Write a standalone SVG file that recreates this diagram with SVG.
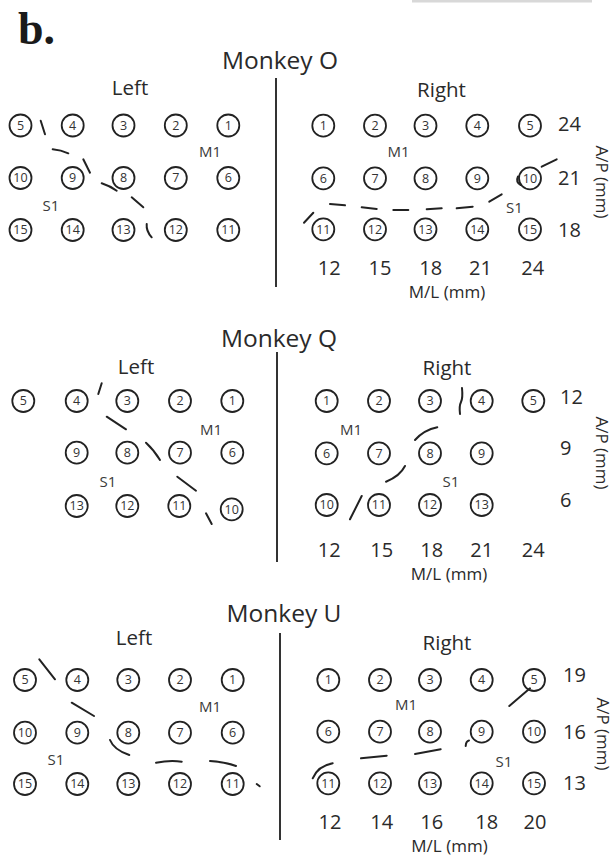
<svg xmlns="http://www.w3.org/2000/svg" width="616" height="859" viewBox="0 0 616 859">
<style>
.e circle{fill:none;stroke:#222;stroke-width:1.8}
.e text{font-family:"Open Sans","Noto Sans",sans-serif;font-size:12.5px;fill:#333;text-anchor:middle}
.t{font-family:"Open Sans","Noto Sans",sans-serif;fill:#2a2a2a;text-anchor:middle}
.ttl{font-size:24.5px}
.side{font-size:20.5px}
.lab{font-size:15px;fill:#3a3a3a}
.ax{font-family:"Open Sans","Noto Sans",sans-serif;font-size:20px;fill:#2a2a2a}
.mid{text-anchor:middle}
.unit{font-family:"Open Sans","Noto Sans",sans-serif;font-size:17px;fill:#2a2a2a;text-anchor:middle}
.div{stroke:#333;stroke-width:2}
.s{fill:none;stroke:#222;stroke-width:2;stroke-linecap:round}
</style>
<rect width="616" height="859" fill="#fff"/>
<rect x="412" y="0" width="180" height="2.5" fill="#d8d8d8"/>
<text x="18" y="44" font-family="Liberation Serif,serif" font-weight="bold" font-size="46" fill="#1a1a1a">b.</text>

<!-- ===== Monkey O ===== -->
<g id="panelO">
<text class="t ttl" x="280" y="69">Monkey O</text>
<line class="div" x1="276" y1="78" x2="276" y2="287"/>
<text class="t side" x="130" y="95">Left</text>
<text class="t side" x="441.5" y="97">Right</text>
<text class="t lab" x="210" y="157">M1</text>
<text class="t lab" x="51" y="211">S1</text>
<text class="t lab" x="398.5" y="157">M1</text>
<text class="t lab" x="514.5" y="213">S1</text>
<text class="ax" x="558" y="131">24</text>
<text class="ax" x="558" y="185">21</text>
<text class="ax" x="558" y="236.5">18</text>
<text class="ax mid" x="329.3" y="275">12</text>
<text class="ax mid" x="380" y="275">15</text>
<text class="ax mid" x="430.7" y="275">18</text>
<text class="ax mid" x="480.5" y="275">21</text>
<text class="ax mid" x="532.7" y="275">24</text>
<text class="unit" x="447" y="297.5">M/L (mm)</text>
<text class="unit" transform="translate(596,182) rotate(90)">A/P (mm)</text>
</g>
<g id="O-L5" class="e" transform="translate(20.5,125.5)"><circle r="11"/><text y="4.3">5</text></g>
<g id="O-L4" class="e" transform="translate(72.7,125.5)"><circle r="11"/><text y="4.3">4</text></g>
<g id="O-L3" class="e" transform="translate(123.5,125.5)"><circle r="11"/><text y="4.3">3</text></g>
<g id="O-L2" class="e" transform="translate(175.8,125.5)"><circle r="11"/><text y="4.3">2</text></g>
<g id="O-L1" class="e" transform="translate(228.3,125.5)"><circle r="11"/><text y="4.3">1</text></g>
<g id="O-L10" class="e" transform="translate(20.5,178)"><circle r="11"/><text y="4.3">10</text></g>
<g id="O-L9" class="e" transform="translate(72.7,178)"><circle r="11"/><text y="4.3">9</text></g>
<g id="O-L8" class="e" transform="translate(123.5,178)"><circle r="11"/><text y="4.3">8</text></g>
<g id="O-L7" class="e" transform="translate(175.8,178)"><circle r="11"/><text y="4.3">7</text></g>
<g id="O-L6" class="e" transform="translate(228.3,178)"><circle r="11"/><text y="4.3">6</text></g>
<g id="O-L15" class="e" transform="translate(20.5,230)"><circle r="11"/><text y="4.3">15</text></g>
<g id="O-L14" class="e" transform="translate(72.7,230)"><circle r="11"/><text y="4.3">14</text></g>
<g id="O-L13" class="e" transform="translate(123.5,230)"><circle r="11"/><text y="4.3">13</text></g>
<g id="O-L12" class="e" transform="translate(175.8,230)"><circle r="11"/><text y="4.3">12</text></g>
<g id="O-L11" class="e" transform="translate(228.3,230)"><circle r="11"/><text y="4.3">11</text></g>

<g id="O-R1" class="e" transform="translate(323.3,125.7)"><circle r="11"/><text y="4.3">1</text></g>
<g id="O-R2" class="e" transform="translate(375,125.7)"><circle r="11"/><text y="4.3">2</text></g>
<g id="O-R3" class="e" transform="translate(425.5,125.7)"><circle r="11"/><text y="4.3">3</text></g>
<g id="O-R4" class="e" transform="translate(477.3,125.7)"><circle r="11"/><text y="4.3">4</text></g>
<g id="O-R5" class="e" transform="translate(530,125.7)"><circle r="11"/><text y="4.3">5</text></g>
<g id="O-R6" class="e" transform="translate(323.3,178.3)"><circle r="11"/><text y="4.3">6</text></g>
<g id="O-R7" class="e" transform="translate(375,178.3)"><circle r="11"/><text y="4.3">7</text></g>
<g id="O-R8" class="e" transform="translate(425.5,178.3)"><circle r="11"/><text y="4.3">8</text></g>
<g id="O-R9" class="e" transform="translate(477.3,178.3)"><circle r="11"/><text y="4.3">9</text></g>
<g id="O-R10" class="e" transform="translate(530,178.3)"><circle r="11"/><text y="4.3">10</text></g>
<g id="O-R11" class="e" transform="translate(323.3,229.3)"><circle r="11"/><text y="4.3">11</text></g>
<g id="O-R12" class="e" transform="translate(375,229.3)"><circle r="11"/><text y="4.3">12</text></g>
<g id="O-R13" class="e" transform="translate(425.5,229.3)"><circle r="11"/><text y="4.3">13</text></g>
<g id="O-R14" class="e" transform="translate(477.3,229.3)"><circle r="11"/><text y="4.3">14</text></g>
<g id="O-R15" class="e" transform="translate(530,229.3)"><circle r="11"/><text y="4.3">15</text></g>

<!-- ===== Monkey Q ===== -->
<g id="panelQ">
<text class="t ttl" x="279" y="347">Monkey Q</text>
<line class="div" x1="277" y1="352" x2="277" y2="562"/>
<text class="t side" x="136" y="374">Left</text>
<text class="t side" x="447" y="375">Right</text>
<text class="t lab" x="211" y="435">M1</text>
<text class="t lab" x="108" y="487">S1</text>
<text class="t lab" x="351" y="435">M1</text>
<text class="t lab" x="451" y="487">S1</text>
<text class="ax" x="560" y="403.5">12</text>
<text class="ax" x="560" y="455">9</text>
<text class="ax" x="560" y="507">6</text>
<text class="ax mid" x="329.3" y="557">12</text>
<text class="ax mid" x="381.7" y="557">15</text>
<text class="ax mid" x="431.7" y="557">18</text>
<text class="ax mid" x="481.7" y="557">21</text>
<text class="ax mid" x="533.3" y="557">24</text>
<text class="unit" x="449" y="580">M/L (mm)</text>
<text class="unit" transform="translate(596,453) rotate(90)">A/P (mm)</text>
</g>
<g id="Q-L5" class="e" transform="translate(23.3,401)"><circle r="11"/><text y="4.3">5</text></g>
<g id="Q-L4" class="e" transform="translate(76.7,401)"><circle r="11"/><text y="4.3">4</text></g>
<g id="Q-L3" class="e" transform="translate(127.3,401)"><circle r="11"/><text y="4.3">3</text></g>
<g id="Q-L2" class="e" transform="translate(180,401)"><circle r="11"/><text y="4.3">2</text></g>
<g id="Q-L1" class="e" transform="translate(232.3,401)"><circle r="11"/><text y="4.3">1</text></g>
<g id="Q-L9" class="e" transform="translate(76.7,452.7)"><circle r="11"/><text y="4.3">9</text></g>
<g id="Q-L8" class="e" transform="translate(127.3,452.7)"><circle r="11"/><text y="4.3">8</text></g>
<g id="Q-L7" class="e" transform="translate(180,452.7)"><circle r="11"/><text y="4.3">7</text></g>
<g id="Q-L6" class="e" transform="translate(232.3,452.7)"><circle r="11"/><text y="4.3">6</text></g>
<g id="Q-L13" class="e" transform="translate(76.7,506)"><circle r="11"/><text y="4.3">13</text></g>
<g id="Q-L12" class="e" transform="translate(127.3,506)"><circle r="11"/><text y="4.3">12</text></g>
<g id="Q-L11" class="e" transform="translate(179.3,506)"><circle r="11"/><text y="4.3">11</text></g>
<g id="Q-L10" class="e" transform="translate(231.7,509.3)"><circle r="11"/><text y="4.3">10</text></g>

<g id="Q-R1" class="e" transform="translate(326.7,401)"><circle r="11"/><text y="4.3">1</text></g>
<g id="Q-R2" class="e" transform="translate(379,401)"><circle r="11"/><text y="4.3">2</text></g>
<g id="Q-R3" class="e" transform="translate(430,401)"><circle r="11"/><text y="4.3">3</text></g>
<g id="Q-R4" class="e" transform="translate(481.7,401)"><circle r="11"/><text y="4.3">4</text></g>
<g id="Q-R5" class="e" transform="translate(533.3,401)"><circle r="11"/><text y="4.3">5</text></g>
<g id="Q-R6" class="e" transform="translate(326.7,453.3)"><circle r="11"/><text y="4.3">6</text></g>
<g id="Q-R7" class="e" transform="translate(379,453.3)"><circle r="11"/><text y="4.3">7</text></g>
<g id="Q-R8" class="e" transform="translate(430,453.3)"><circle r="11"/><text y="4.3">8</text></g>
<g id="Q-R9" class="e" transform="translate(481.7,453.3)"><circle r="11"/><text y="4.3">9</text></g>
<g id="Q-R10" class="e" transform="translate(326.7,505)"><circle r="11"/><text y="4.3">10</text></g>
<g id="Q-R11" class="e" transform="translate(379,505)"><circle r="11"/><text y="4.3">11</text></g>
<g id="Q-R12" class="e" transform="translate(430,505)"><circle r="11"/><text y="4.3">12</text></g>
<g id="Q-R13" class="e" transform="translate(481.7,505)"><circle r="11"/><text y="4.3">13</text></g>

<!-- ===== Monkey U ===== -->
<g id="panelU">
<text class="t ttl" x="284" y="621.5">Monkey U</text>
<line class="div" x1="280" y1="633" x2="280" y2="840"/>
<text class="t side" x="134" y="645">Left</text>
<text class="t side" x="447" y="650">Right</text>
<text class="t lab" x="210" y="712">M1</text>
<text class="t lab" x="56" y="765">S1</text>
<text class="t lab" x="406" y="710">M1</text>
<text class="t lab" x="504" y="767">S1</text>
<text class="ax" x="563" y="682">19</text>
<text class="ax" x="563" y="738.5">16</text>
<text class="ax" x="563" y="790">13</text>
<text class="ax mid" x="330" y="828.5">12</text>
<text class="ax mid" x="381.7" y="828.5">14</text>
<text class="ax mid" x="431.7" y="828.5">16</text>
<text class="ax mid" x="486.7" y="828.5">18</text>
<text class="ax mid" x="535" y="828.5">20</text>
<text class="unit" x="449.5" y="852">M/L (mm)</text>
<text class="unit" transform="translate(597,734) rotate(90)">A/P (mm)</text>
</g>
<g id="U-L5" class="e" transform="translate(25,680)"><circle r="11"/><text y="4.3">5</text></g>
<g id="U-L4" class="e" transform="translate(77.3,680)"><circle r="11"/><text y="4.3">4</text></g>
<g id="U-L3" class="e" transform="translate(128.3,680)"><circle r="11"/><text y="4.3">3</text></g>
<g id="U-L2" class="e" transform="translate(180,680)"><circle r="11"/><text y="4.3">2</text></g>
<g id="U-L1" class="e" transform="translate(232.7,680)"><circle r="11"/><text y="4.3">1</text></g>
<g id="U-L10" class="e" transform="translate(25,732.7)"><circle r="11"/><text y="4.3">10</text></g>
<g id="U-L9" class="e" transform="translate(77.3,732.7)"><circle r="11"/><text y="4.3">9</text></g>
<g id="U-L8" class="e" transform="translate(128.3,732.7)"><circle r="11"/><text y="4.3">8</text></g>
<g id="U-L7" class="e" transform="translate(180,732.7)"><circle r="11"/><text y="4.3">7</text></g>
<g id="U-L6" class="e" transform="translate(232.7,732.7)"><circle r="11"/><text y="4.3">6</text></g>
<g id="U-L15" class="e" transform="translate(25,784)"><circle r="11"/><text y="4.3">15</text></g>
<g id="U-L14" class="e" transform="translate(77.3,784)"><circle r="11"/><text y="4.3">14</text></g>
<g id="U-L13" class="e" transform="translate(128.3,784)"><circle r="11"/><text y="4.3">13</text></g>
<g id="U-L12" class="e" transform="translate(180,784)"><circle r="11"/><text y="4.3">12</text></g>
<g id="U-L11" class="e" transform="translate(232.7,784)"><circle r="11"/><text y="4.3">11</text></g>

<g id="U-R1" class="e" transform="translate(328.3,680)"><circle r="11"/><text y="4.3">1</text></g>
<g id="U-R2" class="e" transform="translate(380,680)"><circle r="11"/><text y="4.3">2</text></g>
<g id="U-R3" class="e" transform="translate(430,680)"><circle r="11"/><text y="4.3">3</text></g>
<g id="U-R4" class="e" transform="translate(481.7,680)"><circle r="11"/><text y="4.3">4</text></g>
<g id="U-R5" class="e" transform="translate(534,680)"><circle r="11"/><text y="4.3">5</text></g>
<g id="U-R6" class="e" transform="translate(328.3,731.7)"><circle r="11"/><text y="4.3">6</text></g>
<g id="U-R7" class="e" transform="translate(380,731.7)"><circle r="11"/><text y="4.3">7</text></g>
<g id="U-R8" class="e" transform="translate(430,731.7)"><circle r="11"/><text y="4.3">8</text></g>
<g id="U-R9" class="e" transform="translate(481.7,731.7)"><circle r="11"/><text y="4.3">9</text></g>
<g id="U-R10" class="e" transform="translate(534,731.7)"><circle r="11"/><text y="4.3">10</text></g>
<g id="U-R11" class="e" transform="translate(328.3,783.3)"><circle r="11"/><text y="4.3">11</text></g>
<g id="U-R12" class="e" transform="translate(380,783.3)"><circle r="11"/><text y="4.3">12</text></g>
<g id="U-R13" class="e" transform="translate(430,783.3)"><circle r="11"/><text y="4.3">13</text></g>
<g id="U-R14" class="e" transform="translate(481.7,783.3)"><circle r="11"/><text y="4.3">14</text></g>
<g id="U-R15" class="e" transform="translate(534,783.3)"><circle r="11"/><text y="4.3">15</text></g>

<!-- sulcus dashes -->
<g id="connectors" class="s">
<path d="M40.7,120.7 L45,134.3"/>
<path d="M52.7,149.3 Q61,150 68.3,153.3"/>
<path d="M83.3,159.3 L90,172.7"/>
<path d="M101.7,183.3 Q110,186 116.7,190.7"/>
<path d="M131.7,197.3 L143.3,207.3"/>
<path d="M146.7,224 Q146,231 151.7,237.3"/>

<path d="M541.7,166.7 L556.7,159.3"/>
<path d="M518,176.5 Q515.5,182 520.5,185"/>
<path d="M489.3,201.7 L501.7,194.3"/>
<path d="M456.7,208.3 L472.7,206.7"/>
<path d="M426.7,209.3 L441.7,208.3"/>
<path d="M393.3,210 L408.3,210"/>
<path d="M361.7,207.3 L376.7,209"/>
<path d="M330,204 L345,205.3"/>
<path d="M304,222.7 L313.3,212.7"/>

<path d="M98.3,394 L101.7,383.3"/>
<path d="M106.7,416.7 L126,429.3"/>
<path d="M146,442.7 Q154,450 160,460"/>
<path d="M177.3,476.7 L196,490.7"/>
<path d="M206,513.3 L211.7,524"/>

<path d="M462,388 Q463,398 461,402 Q459,406 460,414"/>
<path d="M415,440 Q424,430 437.3,427.3"/>
<path d="M386,481.7 Q400,476 405,466"/>
<path d="M350,519.3 L361.7,496"/>

<path d="M39.3,659.3 L55,679.3"/>
<path d="M71.7,702.7 L94,716"/>
<path d="M110,740 Q114,750 129.3,755"/>
<path d="M156,762.7 Q170,760 181.7,761.7"/>
<path d="M210,761 Q225,762 236,766"/>
<path d="M256.7,784 L259.7,786.3"/>

<path d="M509.3,706 L530,688.3"/>
<path d="M465.7,746 Q466,741 469,740.5"/>
<path d="M415,754 L440.7,749.3"/>
<path d="M361,758.3 L386.7,755.7"/>
<path d="M312.7,778.3 Q318,766 332.7,763.3"/>
</g>
</svg>
